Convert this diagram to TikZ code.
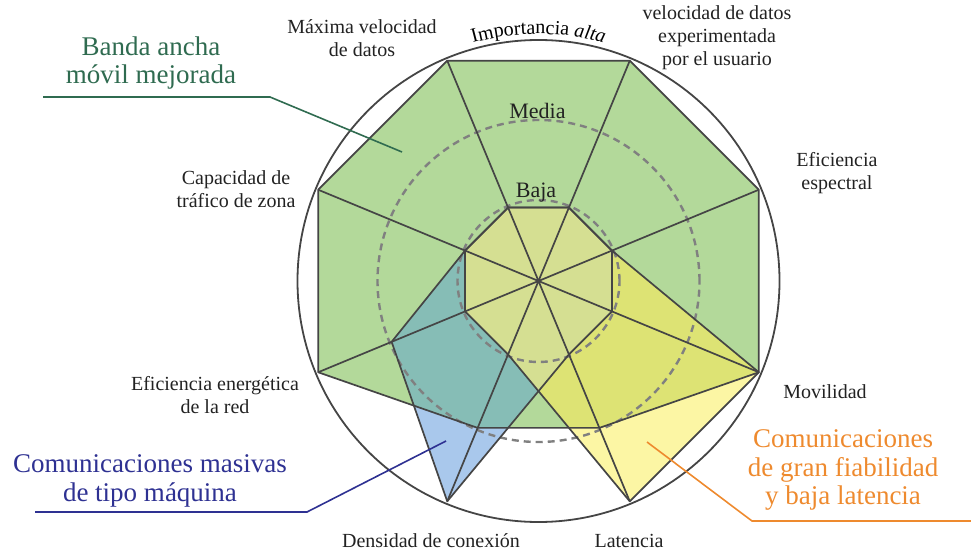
\documentclass[tikz,border=0pt]{standalone}
\usepackage{fontspec}
\setmainfont{Liberation Serif}
\usetikzlibrary{decorations.text,calc}
\definecolor{gOnly}{HTML}{B3D99A}
\definecolor{yOnly}{HTML}{FCF6A4}
\definecolor{bOnly}{HTML}{A9C8EC}
\definecolor{gy}{HTML}{DDE374}
\definecolor{gb}{HTML}{86BDB6}
\definecolor{gyb}{HTML}{D5DF92}
\definecolor{edgec}{HTML}{454545}
\definecolor{dashc}{HTML}{808080}
\definecolor{legG}{HTML}{2F6B50}
\definecolor{legB}{HTML}{2E3192}
\definecolor{legO}{HTML}{EE8A2E}
\definecolor{labc}{HTML}{222222}
\begin{document}
\begin{tikzpicture}[x=1pt,y=1pt,
  axislabel/.style={align=center, font=\fontsize{20}{23}\selectfont, text=labc, inner sep=0pt},
  levellabel/.style={font=\fontsize{22}{24}\selectfont, text=labc, inner sep=0pt},
  legendtext/.style={align=center, font=\fontsize{27}{28.5}\selectfont, inner sep=0pt},
  edgeline/.style={draw=edgec, line width=1.7pt, line join=round},
  dashring/.style={draw=dashc, line width=2.4pt, dash pattern=on 7pt off 5pt},
  leader/.style={line width=1.6pt},
  polyG/.style={insert path={(p1-3)--(p2-3)--(p3-3)--(p4-3)--(p5-2)--(p6-2)--(p7-3)--(p8-3)--cycle}},
  polyY/.style={insert path={(p1-1)--(p2-1)--(p3-1)--(p4-3)--(p5-3)--(p6-1)--(p7-1)--(p8-1)--cycle}},
  polyB/.style={insert path={(p1-1)--(p2-1)--(p3-1)--(p4-1)--(p5-1)--(p6-3)--(p7-2)--(p8-1)--cycle}}]
\useasboundingbox (0,0) rectangle (971,-553);
\coordinate (C) at (538.5,-281);
\foreach \i/\a in {1/112.5,2/67.5,3/22.5,4/-22.5,5/-67.5,6/-112.5,7/-157.5,8/157.5}{
  \foreach \k in {1,2,3}{
    \coordinate (p\i-\k) at ($(C)+(\a:79.5*\k)$);
  }
}
% fills
\fill[gOnly, polyG];
\fill[yOnly, polyY];
\fill[bOnly, polyB];
\begin{scope}
  \clip[polyY];
  \fill[gy, polyG];
\end{scope}
\begin{scope}
  \clip[polyB];
  \fill[gb, polyG];
\end{scope}
\begin{scope}
  \clip[polyY];
  \clip[polyB];
  \fill[gyb, polyG];
\end{scope}
% dashed level circles
\draw[dashring] (C) circle (81);
\draw[dashring] (C) circle (161);
% polygon outlines
\draw[edgeline, polyG];
\draw[edgeline, polyY];
\draw[edgeline, polyB];
% spokes
\foreach \i/\j in {1/5,2/6,3/7,4/8}{
  \draw[edgeline] (p\i-3) -- (p\j-3);
}
\fill[edgec] (C) circle (2.5);
% outer circle
\draw[edgec, line width=1.8pt] (C) circle (241);
% level labels
\node[levellabel] (lMedia) at (537.5,-111) {Media};
\node[levellabel] (lBaja) at (536,-193) {Baja};
\path[decorate, decoration={text along path, text align=center,
  text={|\fontsize{20}{23}\selectfont|Importancia |\fontsize{20}{23}\selectfont\itshape|alta}}]
  ($(C)+(122:247)$) arc[start angle=122, end angle=58, radius=247];
% axis labels
\node[axislabel] (lMax) at (362,-38.5) {Máxima velocidad\\de datos};
\node[axislabel] (lUsr) at (717,-38) {velocidad de datos\\experimentada\\por el usuario};
\node[axislabel] (lEsp) at (837,-173.5) {Eficiencia\\espectral};
\node[axislabel] (lMov) at (825,-392) {Movilidad};
\node[axislabel] (lLat) at (629,-541) {Latencia};
\node[axislabel] (lDen) at (431,-541) {Densidad de conexión};
\node[axislabel] (lEne) at (215,-395.5) {Eficiencia energética\\de la red};
\node[axislabel] (lCap) at (236,-189.5) {Capacidad de\\tráfico de zona};
% legends
\node[legendtext, text=legG] (tG) at (151,-63) {Banda ancha\\móvil mejorada};
\node[legendtext, text=legB] (tB) at (150,-481) {Comunicaciones masivas\\de tipo máquina};
\node[legendtext, text=legO] (tO) at (843,-470) {Comunicaciones\\de gran fiabilidad\\y baja latencia};
% leader lines
\coordinate (gA) at (43,-97);
\coordinate (gB) at (270,-97);
\coordinate (gC) at (402,-152);
\draw[legG, leader] (gA) -- (gB) -- (gC);
\coordinate (bA) at (35,-512);
\coordinate (bB) at (307,-512);
\coordinate (bC) at (446,-441);
\draw[legB, leader] (bA) -- (bB) -- (bC);
\coordinate (oA) at (647,-442);
\coordinate (oB) at (752,-521);
\coordinate (oC) at (971,-521);
\draw[legO, leader] (oA) -- (oB) -- (oC);
\end{tikzpicture}
\end{document}
